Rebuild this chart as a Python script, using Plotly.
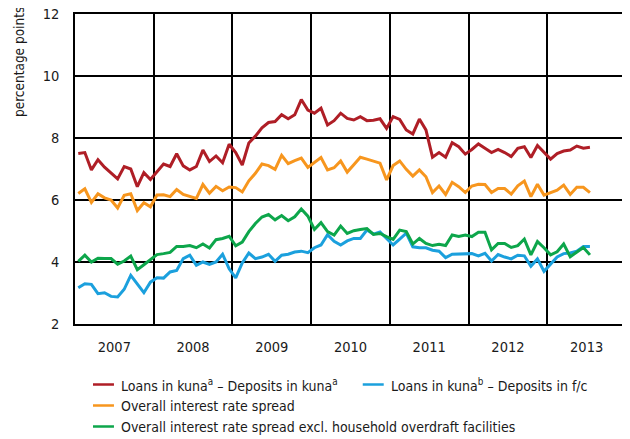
import plotly.graph_objects as go

years = [2007, 2008, 2009, 2010, 2011, 2012, 2013]
year_labels = ["2007", "2008", "2009", "2010", "2011", "2012", "2013"]
y_ticks = [2, 4, 6, 8, 10, 12]

# monthly values, Jan 2007 - Jul 2013
loans_kuna_dep_kuna = [
    7.50, 7.53, 6.97, 7.30, 7.06, 6.88, 6.68, 7.08, 7.00, 6.43, 6.88, 6.66,
    6.90, 7.16, 7.08, 7.49, 7.10, 6.97, 7.08, 7.61, 7.24, 7.42, 7.20, 7.80,
    7.53, 7.13, 7.84, 8.06, 8.33, 8.50, 8.53, 8.75, 8.62, 8.75, 9.24, 8.90,
    8.80, 8.96, 8.42, 8.56, 8.80, 8.63, 8.58, 8.69, 8.56, 8.57, 8.62, 8.31,
    8.69, 8.60, 8.26, 8.13, 8.61, 8.26, 7.38, 7.53, 7.38, 7.85, 7.72, 7.48,
    7.63, 7.81, 7.67, 7.53, 7.63, 7.53, 7.40, 7.67, 7.72, 7.37, 7.76, 7.53,
    7.32, 7.50, 7.58, 7.61, 7.74, 7.67, 7.70,
]
loans_kuna_dep_fc = [
    3.17, 3.30, 3.28, 2.98, 3.01, 2.89, 2.87, 3.12, 3.57, 3.28, 3.01, 3.35,
    3.49, 3.48, 3.68, 3.73, 4.11, 4.22, 3.89, 4.00, 3.92, 4.00, 4.25, 3.78,
    3.49, 3.97, 4.29, 4.11, 4.16, 4.25, 4.02, 4.22, 4.25, 4.32, 4.35, 4.30,
    4.46, 4.55, 4.88, 4.67, 4.55, 4.68, 4.76, 4.76, 5.03, 4.90, 4.97, 4.76,
    4.55, 4.74, 4.93, 4.49, 4.46, 4.46, 4.38, 4.35, 4.14, 4.25, 4.26, 4.27,
    4.27, 4.20, 4.28, 4.03, 4.24, 4.16, 4.10, 4.22, 4.20, 3.86, 4.10, 3.70,
    3.93, 4.16, 4.27, 4.29, 4.35, 4.50, 4.50,
]
overall_spread = [
    6.21, 6.36, 5.92, 6.20, 6.07, 6.00, 5.74, 6.15, 6.20, 5.66, 5.91, 5.78,
    6.16, 6.17, 6.11, 6.34, 6.18, 6.11, 6.05, 6.50, 6.22, 6.44, 6.30, 6.42,
    6.40, 6.26, 6.62, 6.86, 7.16, 7.11, 6.99, 7.44, 7.17, 7.27, 7.35, 7.05,
    7.20, 7.37, 6.97, 7.04, 7.26, 6.90, 7.14, 7.38, 7.32, 7.26, 7.19, 6.65,
    7.11, 7.26, 6.99, 6.77, 6.97, 6.75, 6.24, 6.45, 6.18, 6.57, 6.43, 6.24,
    6.45, 6.51, 6.50, 6.24, 6.37, 6.37, 6.19, 6.46, 6.61, 6.11, 6.51, 6.16,
    6.24, 6.32, 6.48, 6.18, 6.41, 6.41, 6.24,
]
overall_excl_overdraft = [
    4.02, 4.22, 4.00, 4.12, 4.11, 4.11, 3.93, 4.03, 4.19, 3.75, 3.91, 4.08,
    4.24, 4.27, 4.31, 4.50, 4.50, 4.53, 4.46, 4.58, 4.45, 4.72, 4.76, 4.83,
    4.52, 4.64, 4.98, 5.24, 5.45, 5.53, 5.36, 5.50, 5.33, 5.46, 5.71, 5.48,
    5.05, 5.27, 4.98, 4.87, 5.16, 4.92, 5.01, 5.05, 5.08, 4.89, 4.92, 4.82,
    4.73, 5.03, 4.98, 4.58, 4.76, 4.60, 4.53, 4.57, 4.53, 4.87, 4.82, 4.87,
    4.82, 4.96, 4.96, 4.39, 4.60, 4.60, 4.47, 4.53, 4.74, 4.23, 4.66, 4.46,
    4.23, 4.33, 4.58, 4.17, 4.31, 4.47, 4.23,
]

series = [
    ("Loans in kuna<sup>a</sup> – Deposits in kuna<sup>a</sup>", loans_kuna_dep_kuna, "#AF1E26"),
    ("Loans in kuna<sup>b</sup> – Deposits in f/c", loans_kuna_dep_fc, "#1BA0DD"),
    ("Overall interest rate spread", overall_spread, "#F7961E"),
    ("Overall interest rate spread excl. household overdraft facilities", overall_excl_overdraft, "#0DA64B"),
]

n = len(loans_kuna_dep_kuna)
x = [years[0] + (i + 0.5) / 12 for i in range(n)]

FONT = "DejaVu Sans Condensed, Liberation Sans Narrow, sans-serif"
# the page body has an 8px default margin; size the figure to fill the window
OFF = 8
W, H = 630 - OFF, 439 - OFF
L, R, T, B = 74.5 - OFF, 4, 14 - OFF, 439 - 324
pw, ph = W - L - R, H - T - B

def px2x(px):
    return (px - OFF - L) / pw

def py2y(py):
    return 1 - (py - OFF - T) / ph

fig = go.Figure()
for name, vals, color in series:
    fig.add_trace(go.Scatter(x=x[:len(vals)], y=vals, mode="lines", name=name,
                             line=dict(color=color, width=3), showlegend=False))

# manual legend
legend_rows = [
    (series[0], 92.5, 384.5),
    (series[1], 362.5, 384.5),
    (series[2], 92.5, 405.5),
    (series[3], 92.5, 426.5),
]
shapes = []
annotations = []
for (name, vals, color), lx, ly in legend_rows:
    shapes.append(dict(type="line", xref="paper", yref="paper",
                       x0=px2x(lx), x1=px2x(lx + 21), y0=py2y(ly), y1=py2y(ly),
                       line=dict(color=color, width=2.5)))
    annotations.append(dict(xref="paper", yref="paper", x=px2x(lx + 26), y=py2y(ly),
                            text=name, showarrow=False, xanchor="left", yanchor="middle",
                            font=dict(family=FONT, size=14, color="#1a1a1a")))

annotations.append(dict(xref="paper", yref="paper", x=px2x(18.5), y=py2y(62),
                        text="percentage points", showarrow=False, textangle=-90,
                        xanchor="center", yanchor="middle",
                        font=dict(family=FONT, size=13.5, color="#1a1a1a")))

fig.update_layout(
    width=W, height=H,
    margin=dict(l=L, r=R, t=T, b=B, pad=0, autoexpand=False),
    paper_bgcolor="white", plot_bgcolor="white",
    showlegend=False,
    shapes=shapes, annotations=annotations,
    font=dict(family=FONT, size=14, color="#1a1a1a"),
)
fig.update_xaxes(
    range=[years[0], years[-1] + 1], automargin=False,
    tickvals=[y + 0.5 for y in years], ticktext=year_labels,
    showgrid=False, ticks="", ticklabelstandoff=9,
    tickfont=dict(family=FONT, size=14.5),
    minor=dict(tickvals=years[1:], showgrid=True, gridcolor="black", gridwidth=1.5, ticks=""),
    showline=True, mirror=True, linecolor="black", linewidth=1.5,
    zeroline=False,
)
fig.update_yaxes(
    range=[2, 12], tickvals=y_ticks, automargin=False,
    showgrid=True, gridcolor="black", gridwidth=1.5, ticks="", ticklabelstandoff=11,
    ticklabeloverflow="allow",
    tickfont=dict(family=FONT, size=14.5),
    showline=True, mirror=True, linecolor="black", linewidth=1.5,
    zeroline=False,
)

fig.write_html("out.html")
